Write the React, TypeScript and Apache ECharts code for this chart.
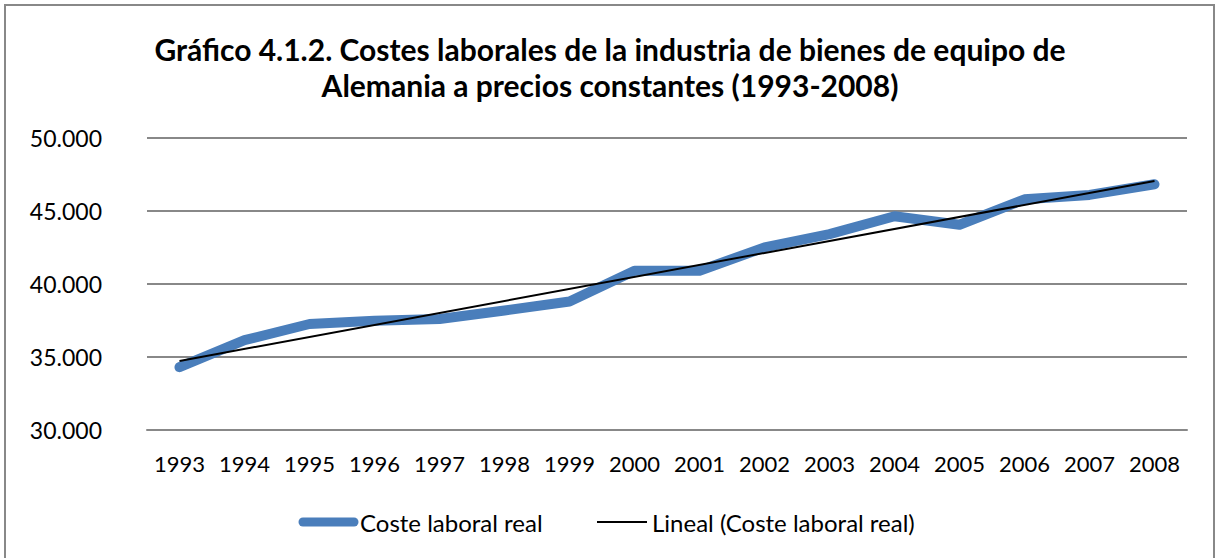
import React, { useEffect, useRef } from "react";
import * as echarts from "echarts";

const years = ["1993","1994","1995","1996","1997","1998","1999","2000","2001","2002","2003","2004","2005","2006","2007","2008"];
const costeReal = [34300, 36150, 37260, 37490, 37600, 38190, 38800, 40910, 40910, 42510, 43420, 44640, 44060, 45800, 46100, 46830];
// trend line: only its end points
const tendencia = [34730, null, null, null, null, null, null, null, null, null, null, null, null, null, null, 47060];
const titleLines = ["Gráfico 4.1.2. Costes laborales de la industria de bienes de equipo de", "Alemania a precios constantes (1993-2008)"];
const seriesNames = ["Coste laboral real", "Lineal (Coste laboral real)"];

const FONT = "Lato";
const BLUE = "#4a7ebb";

export default function App() {
  const ref = useRef<HTMLDivElement>(null);
  useEffect(() => {
    const chart = echarts.init(ref.current!, null, { renderer: "svg" });
    const legendY = 522;
    chart.setOption({
      animation: false,
      backgroundColor: "#ffffff",
      textStyle: { fontFamily: FONT },
      graphic: [
        {
          type: "rect",
          shape: { x: 5, y: 5, width: 1209, height: 600 },
          style: { fill: "none", stroke: "#888888", lineWidth: 2 },
          silent: true,
          z: 100,
        },
        {
          type: "text",
          x: 610,
          y: 49,
          style: {
            text: titleLines[0],
            fontFamily: FONT, fontWeight: "bold", fontSize: 30, fill: "#000",
            textAlign: "center", textVerticalAlign: "middle",
          },
        },
        {
          type: "text",
          x: 610,
          y: 85,
          style: {
            text: titleLines[1],
            fontFamily: FONT, fontWeight: "bold", fontSize: 30, fill: "#000",
            textAlign: "center", textVerticalAlign: "middle",
          },
        },
        // legend
        {
          type: "line",
          shape: { x1: 303, y1: legendY, x2: 354, y2: legendY },
          style: { stroke: BLUE, lineWidth: 9, lineCap: "round" },
        },
        {
          type: "text",
          x: 360,
          y: legendY,
          style: {
            text: seriesNames[0],
            fontFamily: FONT, fontSize: 24, fill: "#000",
            textAlign: "left", textVerticalAlign: "middle",
          },
        },
        {
          type: "line",
          shape: { x1: 597, y1: legendY, x2: 647, y2: legendY },
          style: { stroke: "#000", lineWidth: 2 },
        },
        {
          type: "text",
          x: 652,
          y: legendY,
          style: {
            text: seriesNames[1],
            fontFamily: FONT, fontSize: 24, fill: "#000",
            textAlign: "left", textVerticalAlign: "middle",
          },
        },
      ],
      grid: { left: 147, right: 29, top: 138, bottom: 128 },
      xAxis: {
        type: "category",
        data: years,
        boundaryGap: true,
        axisTick: { show: false },
        axisLine: { show: true, lineStyle: { color: "#888888", width: 2 } },
        axisLabel: { color: "#000", fontSize: 22, fontFamily: FONT, margin: 22, interval: 0 },
      },
      yAxis: {
        type: "value",
        min: 30000,
        max: 50000,
        interval: 5000,
        axisLine: { show: false },
        axisTick: { show: false },
        splitLine: { lineStyle: { color: "#888888", width: 2 } },
        axisLabel: {
          color: "#000",
          fontSize: 23,
          fontFamily: FONT,
          margin: 45,
          formatter: (v: number) => {
            const s = Math.round(v).toString();
            return s.replace(/\B(?=(\d{3})+(?!\d))/g, ".");
          },
        },
      },
      series: [
        {
          name: seriesNames[0],
          type: "line",
          data: costeReal,
          symbol: "none",
          lineStyle: { color: BLUE, width: 10, cap: "round", join: "round" },
          itemStyle: { color: BLUE },
          z: 2,
        },
        {
          name: seriesNames[1],
          type: "line",
          data: tendencia,
          connectNulls: true,
          symbol: "none",
          lineStyle: { color: "#000000", width: 2 },
          itemStyle: { color: "#000000" },
          z: 3,
        },
      ],
    });
    return () => chart.dispose();
  }, []);
  return (
    <div
      ref={ref}
      style={{ position: "fixed", left: 0, top: 0, width: 1216, height: 558 }}
    />
  );
}
